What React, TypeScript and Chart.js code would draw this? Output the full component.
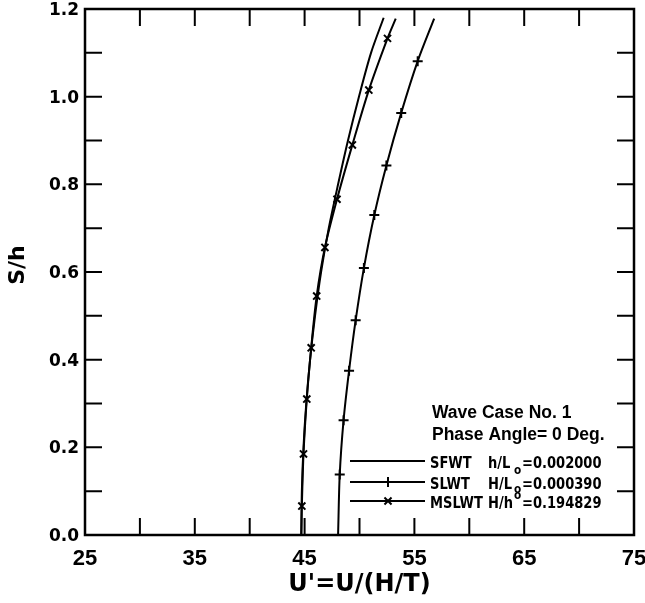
import { useEffect, useRef } from 'react';
import { Chart, registerables } from 'chart.js';

Chart.register(...registerables);

// Axis ranges and tick steps
const X_MIN = 25;
const X_MAX = 75;
const X_TICK_STEP = 5;
const X_LABEL_STEP = 10;
const Y_MIN = 0;
const Y_MAX = 1.2;
const Y_TICK_STEP = 0.1;

const X_TITLE = "U'=U/(H/T)";
const Y_TITLE = 'S/h';
const NOTE_LINES = ['Wave Case No. 1', 'Phase Angle= 0 Deg.'];

// Series (S/h vs U')
const SFWT_S = [0, 0.1, 0.2, 0.3, 0.4, 0.5, 0.6, 0.7, 0.8, 0.9, 1.0, 1.1, 1.18];
const SFWT_U = [44.7, 44.75, 44.9, 45.15, 45.5, 45.95, 46.5, 47.2, 48.05, 48.95, 49.95, 51.05, 52.2];

const SLWT_S = [0, 0.138, 0.262, 0.375, 0.49, 0.609, 0.73, 0.843, 0.963, 1.081, 1.178];
const SLWT_U = [48.05, 48.2, 48.55, 49.05, 49.65, 50.4, 51.35, 52.45, 53.8, 55.3, 56.8];

const MSLWT_S = [0, 0.066, 0.185, 0.31, 0.427, 0.545, 0.656, 0.766, 0.89, 1.015, 1.133, 1.178];
const MSLWT_U = [44.7, 44.75, 44.9, 45.2, 45.6, 46.1, 46.85, 47.95, 49.35, 50.85, 52.55, 53.3];

const SERIES_NAMES = ['SFWT', 'SLWT', 'MSLWT'];
const PARAM_NAMES = ['h/L', 'H/L', 'H/h'];
const PARAM_SUB = ['o', 'o', 'o'];
const PARAM_VALUES = ['=0.002000', '=0.000390', '=0.194829'];

const toPoints = (s: number[], u: number[]) => s.map((v, i) => ({ x: u[i], y: v }));

const innerMarker = (len: number) => (c: any) =>
  c.dataIndex === 0 || c.dataIndex === len - 1 ? 0 : 5;

function drawMarker(ctx: CanvasRenderingContext2D, style: string, x: number, y: number, r: number) {
  ctx.beginPath();
  if (style === 'cross') {
    ctx.moveTo(x - r, y); ctx.lineTo(x + r, y);
    ctx.moveTo(x, y - r); ctx.lineTo(x, y + r);
  } else if (style === 'crossRot') {
    const d = r * Math.SQRT1_2;
    ctx.moveTo(x - d, y - d); ctx.lineTo(x + d, y + d);
    ctx.moveTo(x - d, y + d); ctx.lineTo(x + d, y - d);
  }
  ctx.stroke();
}

function narrowText(ctx: CanvasRenderingContext2D, text: string, x: number, y: number, sx: number) {
  ctx.save();
  ctx.translate(x, y);
  ctx.scale(sx, 1);
  ctx.fillText(text, 0, 0);
  ctx.restore();
}

const decorPlugin = {
  id: 'decor',
  afterDraw(chart: any) {
    const ctx: CanvasRenderingContext2D = chart.ctx;
    const { left, right, top, bottom } = chart.chartArea;
    const xs = chart.scales.x;
    const ys = chart.scales.y;
    ctx.save();
    ctx.strokeStyle = '#000';
    ctx.fillStyle = '#000';

    // frame
    ctx.lineWidth = 2.5;
    ctx.strokeRect(left, top, right - left, bottom - top);

    // inward ticks on all four sides
    const TL = 17;
    ctx.lineWidth = 2;
    ctx.beginPath();
    xs.ticks.forEach((t: any) => {
      const px = xs.getPixelForValue(t.value);
      ctx.moveTo(px, bottom); ctx.lineTo(px, bottom - TL);
      ctx.moveTo(px, top); ctx.lineTo(px, top + TL);
    });
    ys.ticks.forEach((t: any) => {
      const py = ys.getPixelForValue(t.value);
      ctx.moveTo(left, py); ctx.lineTo(left + TL, py);
      ctx.moveTo(right, py); ctx.lineTo(right - TL, py);
    });
    ctx.stroke();

    // x tick labels
    ctx.font = 'bold 22px "Liberation Sans", Arial, sans-serif';
    ctx.textAlign = 'center';
    ctx.textBaseline = 'alphabetic';
    xs.ticks.forEach((t: any) => {
      const v = Math.round(t.value);
      if ((v - X_MIN) % X_LABEL_STEP === 0) {
        ctx.fillText(String(v), xs.getPixelForValue(t.value), bottom + 30);
      }
    });

    // y tick labels
    ctx.font = 'bold 17px "DejaVu Sans", sans-serif';
    ctx.textAlign = 'right';
    ys.ticks.forEach((t: any) => {
      const k = Math.round(t.value * 10);
      if (k % 2 === 0) {
        ctx.fillText((k / 10).toFixed(1), left - 6, ys.getPixelForValue(t.value) + 6);
      }
    });

    // axis titles
    ctx.font = 'bold 24px "DejaVu Sans", sans-serif';
    ctx.textAlign = 'center';
    ctx.fillText(X_TITLE, (left + right) / 2, 591);
    ctx.save();
    ctx.translate(24, (top + bottom) / 2 - 7);
    ctx.rotate(-Math.PI / 2);
    ctx.font = 'bold 22px "DejaVu Sans", sans-serif';
    ctx.fillText(Y_TITLE, 0, 0);
    ctx.restore();

    // notes
    ctx.textAlign = 'left';
    ctx.font = 'bold 17.5px "Liberation Sans", Arial, sans-serif';
    ctx.fillText(NOTE_LINES[0], 432, 418);
    ctx.fillText(NOTE_LINES[1], 432, 440);

    // legend rows
    const rowY = [461, 482, 501];
    const subOff = [6, 4, -9];
    chart.data.datasets.forEach((ds: any, i: number) => {
      const y = rowY[i];
      ctx.lineWidth = ds.borderWidth;
      ctx.beginPath();
      ctx.moveTo(350, y); ctx.lineTo(425, y);
      ctx.stroke();
      if (ds.pointStyle && ds.pointStyle !== 'line') {
        drawMarker(ctx, ds.pointStyle, 388, y, 5);
      }
      const base = y + 6.5;
      ctx.font = 'bold 16.5px "DejaVu Sans Condensed", "DejaVu Sans", sans-serif';
      narrowText(ctx, SERIES_NAMES[i], 430, base, 0.88);
      narrowText(ctx, PARAM_NAMES[i], 488, base, 0.88);
      narrowText(ctx, PARAM_VALUES[i], 522, base, 0.88);
      ctx.font = 'bold 13px "DejaVu Sans Condensed", "DejaVu Sans", sans-serif';
      narrowText(ctx, PARAM_SUB[i], 514, base + subOff[i], 0.9);
    });

    ctx.restore();
  },
};

export default function App() {
  const ref = useRef<HTMLCanvasElement | null>(null);

  useEffect(() => {
    if (!ref.current) return;
    const chart = new Chart(ref.current, {
      type: 'scatter',
      data: {
        datasets: [
          {
            label: SERIES_NAMES[0],
            data: toPoints(SFWT_S, SFWT_U),
            showLine: true,
            borderColor: '#000',
            backgroundColor: '#000',
            borderWidth: 2,
            pointRadius: 0,
            pointStyle: 'line',
            tension: 0.3,
          },
          {
            label: SERIES_NAMES[1],
            data: toPoints(SLWT_S, SLWT_U),
            showLine: true,
            borderColor: '#000',
            backgroundColor: '#000',
            borderWidth: 2,
            pointStyle: 'cross',
            pointRadius: innerMarker(SLWT_S.length),
            pointBorderWidth: 2,
            pointBorderColor: '#000',
            tension: 0.3,
          },
          {
            label: SERIES_NAMES[2],
            data: toPoints(MSLWT_S, MSLWT_U),
            showLine: true,
            borderColor: '#000',
            backgroundColor: '#000',
            borderWidth: 2,
            pointStyle: 'crossRot',
            pointRadius: innerMarker(MSLWT_S.length),
            pointBorderWidth: 2,
            pointBorderColor: '#000',
            tension: 0.3,
          },
        ],
      },
      options: {
        animation: false,
        responsive: false,
        maintainAspectRatio: false,
        layout: { padding: { left: 85, right: 11, top: 9, bottom: 68 } },
        plugins: { legend: { display: false }, tooltip: { enabled: false } },
        events: [],
        scales: {
          x: {
            type: 'linear',
            min: X_MIN,
            max: X_MAX,
            ticks: { display: false, stepSize: X_TICK_STEP },
            grid: { display: false, drawTicks: false },
            border: { display: false },
          },
          y: {
            type: 'linear',
            min: Y_MIN,
            max: Y_MAX,
            ticks: { display: false, stepSize: Y_TICK_STEP },
            grid: { display: false, drawTicks: false },
            border: { display: false },
          },
        },
      },
      plugins: [decorPlugin],
    });
    return () => chart.destroy();
  }, []);

  return (
    <div style={{ position: 'absolute', left: 0, top: 0, width: 645, height: 603, background: '#fff' }}>
      <canvas ref={ref} width={645} height={603} />
    </div>
  );
}
